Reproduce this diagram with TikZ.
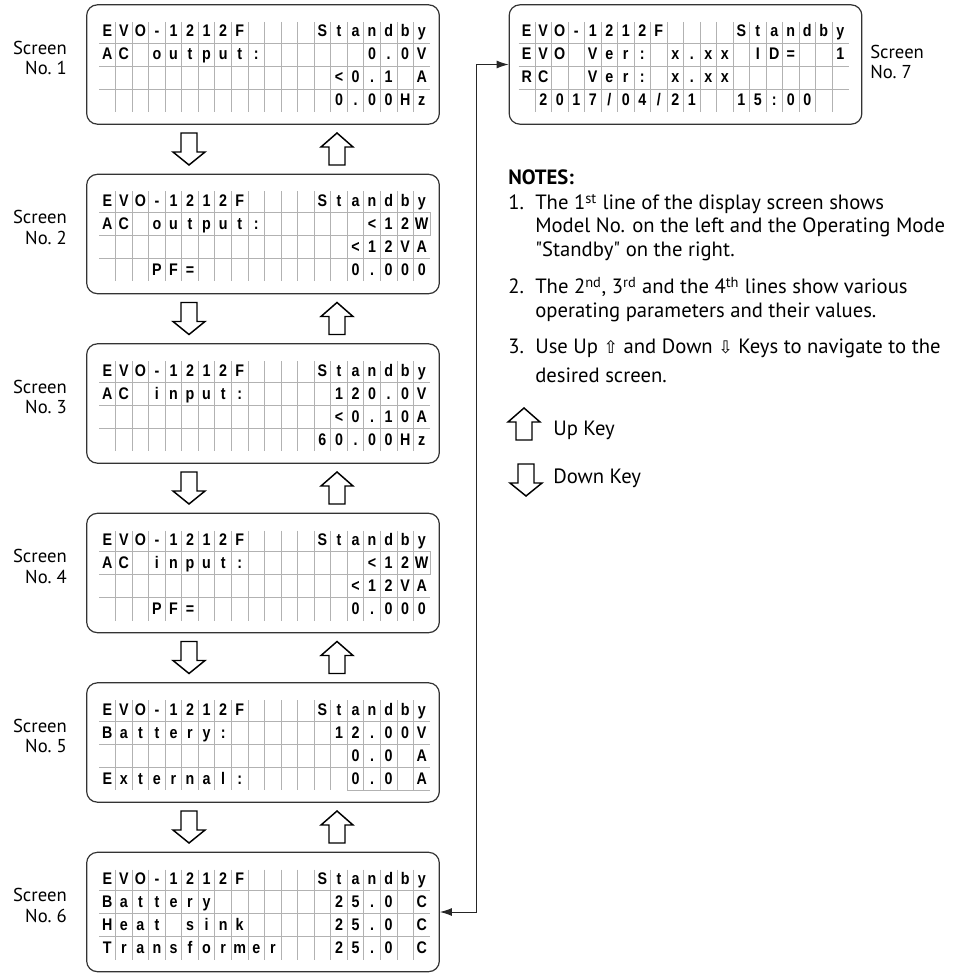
\documentclass[tikz,border=0pt]{standalone}
\usepackage{fontspec}
\setmainfont{PT Sans}[Ligatures=TeXOff]
\newfontfamily\lcdschrift[FakeStretch=0.85]{Liberation Sans}
\newfontfamily\symbolschrift{DejaVu Sans}
\usetikzlibrary{positioning, arrows.meta}
\tikzset{
    anzeige/.style={
        rectangle,
        draw=black!80,        % dunkler Rahmen des Displays
        line width=0.9pt,
        rounded corners=8pt,
        minimum width=264.5pt,
        minimum height=89.5pt,
        inner sep=0pt
    },
    raster/.style={draw=black!30, line width=0.55pt},
    zeichen/.style={
        font=\lcdschrift\bfseries\fontsize{12.6}{13}\selectfont,
        anchor=base, inner sep=0pt
    },
    beschriftung/.style={
        font=\fontsize{14}{15.5}\selectfont,
        inner sep=0pt
    },
    notiz/.style={
        font=\fontsize{15.5}{17}\selectfont,
        inner sep=0pt, anchor=base west
    },
    taste/.style={draw=black, line width=1.1pt, fill=white},
    verbinder/.style={
        draw=black!85, line width=0.7pt,
        >={Latex[length=9pt,width=6pt]}, <->
    },
    pics/hoch/.style={code={
        \draw[taste] (0,0) -- (16,14) -- (8,14) -- (8,32) -- (-8,32) -- (-8,14) -- (-16,14) -- cycle;
    }},
    pics/runter/.style={code={
        \draw[taste] (-8,0) -- (8,0) -- (8,19) -- (16,19) -- (0,32) -- (-16,19) -- (-8,19) -- cycle;
    }}
}

\begin{document}
\begin{tikzpicture}[x=0.75pt, y=-0.75pt]
    \useasboundingbox (0,0) rectangle (956,973);

    % Sieben Anzeigen: 1 bis 6 links untereinander, 7 rechts oben
    \foreach \k in {1,...,7} {
        \pgfmathsetmacro{\oben}{\k==7 ? 5 : 5+169.5*(\k-1)}
        \pgfmathsetmacro{\mx}{\k==7 ? 685.5 : 263}
        \pgfmathsetmacro{\xa}{\k==7 ? 518.5 : 99}
        \pgfmathsetmacro{\w}{\k==7 ? 16.5 : 16.55}
        \node[anzeige] (s\k) at (\mx, \oben+59.5) {};
        \foreach \i in {1,...,19}
            \draw[raster] ({\xa+\i*\w}, \oben+17) -- ({\xa+\i*\w}, \oben+107);
        \foreach \j in {1,2,3}
            \draw[raster] (\xa, \oben+15+23*\j) -- ({\xa+20*\w}, \oben+15+23*\j);
        % erste Zeile ist ueberall gleich
        \foreach \c [count=\s] in {E,V,O,-,1,2,1,2,F,{},{},{},{},S,t,a,n,d,b,y}
            \node[zeichen] (z\k-1-\s) at ({\xa+(\s-0.5)*\w}, \oben+32) {\c};
    }

    % Inhalt: Anzeige / Zeile / erste Spalte / Zeichen
    \foreach \k/\r/\sp/\inhalt in {
        1/2/1/{A,C}, 1/2/4/{o,u,t,p,u,t,:}, 1/2/17/{0,{.},0,V},
        1/3/15/{<,0,{.},1,{},A}, 1/4/15/{0,{.},0,0,H,z},
        2/2/1/{A,C}, 2/2/4/{o,u,t,p,u,t,:}, 2/2/17/{<,1,2,W},
        2/3/16/{<,1,2,V,A}, 2/4/4/{P,F,=}, 2/4/16/{0,{.},0,0,0},
        3/2/1/{A,C}, 3/2/4/{i,n,p,u,t,:}, 3/2/15/{1,2,0,{.},0,V},
        3/3/15/{<,0,{.},1,0,A}, 3/4/14/{6,0,{.},0,0,H,z},
        4/2/1/{A,C}, 4/2/4/{i,n,p,u,t,:}, 4/2/17/{<,1,2,W},
        4/3/16/{<,1,2,V,A}, 4/4/4/{P,F,=}, 4/4/16/{0,{.},0,0,0},
        5/2/1/{B,a,t,t,e,r,y,:}, 5/2/15/{1,2,{.},0,0,V},
        5/3/16/{0,{.},0,{},A}, 5/4/1/{E,x,t,e,r,n,a,l,:}, 5/4/16/{0,{.},0,{},A},
        6/2/1/{B,a,t,t,e,r,y}, 6/2/15/{2,5,{.},0,{},C},
        6/3/1/{H,e,a,t,{},s,i,n,k}, 6/3/15/{2,5,{.},0,{},C},
        6/4/1/{T,r,a,n,s,f,o,r,m,e,r}, 6/4/15/{2,5,{.},0,{},C},
        7/2/1/{E,V,O}, 7/2/5/{V,e,r,:}, 7/2/10/{x,{.},x,x}, 7/2/15/{I,D,=}, 7/2/20/{1},
        7/3/1/{R,C}, 7/3/5/{V,e,r,:}, 7/3/10/{x,{.},x,x},
        7/4/2/{2,0,1,7,/,0,4,/,2,1}, 7/4/14/{1,5,:,0,0}} {
        \pgfmathsetmacro{\oben}{\k==7 ? 5 : 5+169.5*(\k-1)}
        \pgfmathsetmacro{\xa}{\k==7 ? 518.5 : 99}
        \pgfmathsetmacro{\w}{\k==7 ? 16.5 : 16.55}
        \foreach \c [count=\s from \sp] in \inhalt
            \node[zeichen] (z\k-\r-\s) at ({\xa+(\s-0.5)*\w}, {\oben+32+23*(\r-1)}) {\c};
    }

    % kleine Eigenheiten der Vorlage
    \foreach \k in {2,4} {
        \pgfmathsetmacro{\oben}{5+169.5*(\k-1)}
        \draw[raster] ({99+19*16.55}, \oben+38) rectangle ({99+20*16.55}, \oben+61);
    }
    \draw[raster] ({99+15*16.55}, 790) -- ({99+20*16.55}, 790);

    % Beschriftungen und Tasten
    \foreach \k in {1,...,6} {
        \pgfmathsetmacro{\oben}{5+169.5*(\k-1)}
        \node[beschriftung, align=right, anchor=east] (l\k) at (67, \oben+53) {Screen\\No.~\k};
    }
    \node[beschriftung, align=left, anchor=west] (l7) at (870, 62) {Screen\\No.~7};
    \foreach \k in {1,...,5} {
        \pgfmathsetmacro{\oben}{5+169.5*(\k-1)}
        \pic at (189, \oben+128) {runter};
        \pic at (337, \oben+128) {hoch};
    }
    \draw[verbinder] (s6.east) -- ++(37,0) |- (s7.west);

    % Hinweise
    \node[notiz] (titel) at (508,185) {\bfseries NOTES:};
    \node[notiz] (n1) at (508,210) {1.};
    \node[notiz] (t1a) at (535,210) {The 1\textsuperscript{st} line of the display screen shows};
    \node[notiz] (t1b) at (535,233) {Model No. on the left and the Operating Mode};
    \node[notiz] (t1c) at (535,257) {"Standby" on the right.};
    \node[notiz] (n2) at (508,294) {2.};
    \node[notiz] (t2a) at (535,294) {The 2\textsuperscript{nd}, 3\textsuperscript{rd} and the 4\textsuperscript{th} lines show various};
    \node[notiz] (t2b) at (535,317) {operating parameters and their values.};
    \node[notiz] (n3) at (508,353) {3.};
    \node[notiz] (t3a) at (535,353) {Use Up {\symbolschrift\fontsize{13}{13}\selectfont ⇧} and Down {\symbolschrift\fontsize{13}{13}\selectfont ⇩} Keys to navigate to the};
    \node[notiz] (t3b) at (535,382) {desired screen.};
    \pic at (524,408) {hoch};
    \node[notiz] (hochtaste) at (553,435) {Up Key};
    \pic at (526,464) {runter};
    \node[notiz] (runtertaste) at (553,483) {Down Key};
\end{tikzpicture}
\end{document}
